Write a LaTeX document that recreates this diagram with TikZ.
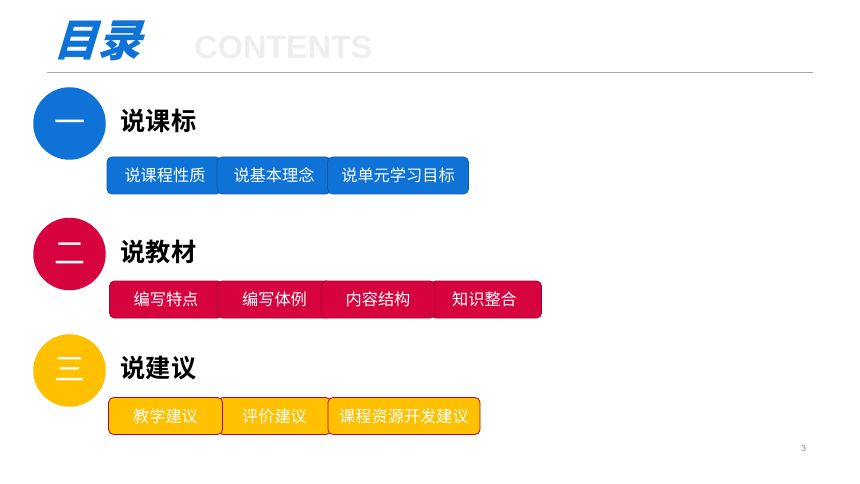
\documentclass[tikz,border=0pt]{standalone}
\usepackage{fontspec}
\setmainfont{Liberation Sans}
\newfontfamily\cjk{Noto Sans CJK SC}
\newfontfamily\cjkb{Noto Sans CJK SC Bold}
\newfontfamily\cjkslant[FakeSlant=0.3]{Noto Sans CJK SC Black}
\definecolor{myblue}{HTML}{0F72D6}
\definecolor{myred}{HTML}{D6033F}
\definecolor{myyellow}{HTML}{FFC000}
\definecolor{ghost}{HTML}{EDEEF1}
\tikzset{
  x=1pt,y=-1pt,
  numcircle/.style={circle,minimum size=72.5pt,inner sep=0pt,fill=#1},
  numeral/.style={inner sep=0pt,text=white,text height=27.3pt,text depth=3.7pt,font=\cjk\fontsize{31}{31}\selectfont},
  heading/.style={anchor=west,inner sep=0pt,font=\cjkb\fontsize{25.2}{26}\selectfont},
  tagbox/.style={rounded corners=5pt,minimum height=37pt,inner sep=0pt,text=white,text height=14.3pt,text depth=1.9pt,font=\cjk\fontsize{16.2}{17}\selectfont},
  bluebox/.style={tagbox,fill=myblue,draw=myblue!80!black,line width=.8pt},
  redbox/.style={tagbox,fill=myred,draw=myred!75!black,line width=.8pt},
  yellowbox/.style={tagbox,fill=myyellow,draw=myred!85!black,line width=.8pt},
}
\begin{document}
\begin{tikzpicture}
\useasboundingbox (0,0) rectangle (860,484);
\fill[white] (0,0) rectangle (860,484);
\node[inner sep=0pt,text=myblue,font=\cjkslant\fontsize{44}{44}\selectfont] (title) at (97,41) {目录};
\node[inner sep=0pt,text=ghost,font=\bfseries\fontsize{32.4}{33}\selectfont] (contents) at (283.5,47) {CONTENTS};
\coordinate (ruleL) at (47,72.5);
\coordinate (ruleR) at (813,72.5);
\draw[color=black!35,line width=1pt] (ruleL) -- (ruleR);

\node[numcircle=myblue] (c1) at (69.5,123.5) {};
\node[numcircle=myred] (c2) at (69.5,254) {};
\node[numcircle=myyellow] (c3) at (69.5,370.5) {};
\node[numeral] (n1) at (69.5,122) {一};
\node[numeral] (n2) at (69.5,252.5) {二};
\node[numeral] (n3) at (69.5,369) {三};
\node[heading] (h1) at (120.5,121) {说课标};
\node[heading] (h2) at (120.5,252) {说教材};
\node[heading] (h3) at (120.5,368.5) {说建议};

\node[bluebox,minimum width=114pt] (b1) at (164,175.5) {\hspace*{2pt}说课程性质};
\node[bluebox,minimum width=114pt] (b2) at (274,175.5) {说基本理念};
\node[bluebox,minimum width=141pt] (b3) at (398,175.5) {说单元学习目标};

\node[redbox,minimum width=113pt] (r1) at (166,299.5) {编写特点};
\node[redbox,minimum width=111pt] (r4) at (486,299.5) {知识整合\hspace*{3pt}};
\node[redbox,minimum width=114pt] (r2) at (274.5,299.5) {编写体例};
\node[redbox,minimum width=114pt] (r3) at (378,299.5) {内容结构};

\node[yellowbox,minimum width=113pt] (y2) at (274.5,416) {评价建议};
\node[yellowbox,minimum width=114pt] (y1) at (165.5,416) {教学建议};
\node[yellowbox,minimum width=152pt] (y3) at (404,416) {课程资源开发建议};

\node[inner sep=0pt,text=black!45,font=\fontsize{9}{9}\selectfont] (page) at (803.5,448) {3};
\end{tikzpicture}
\end{document}
